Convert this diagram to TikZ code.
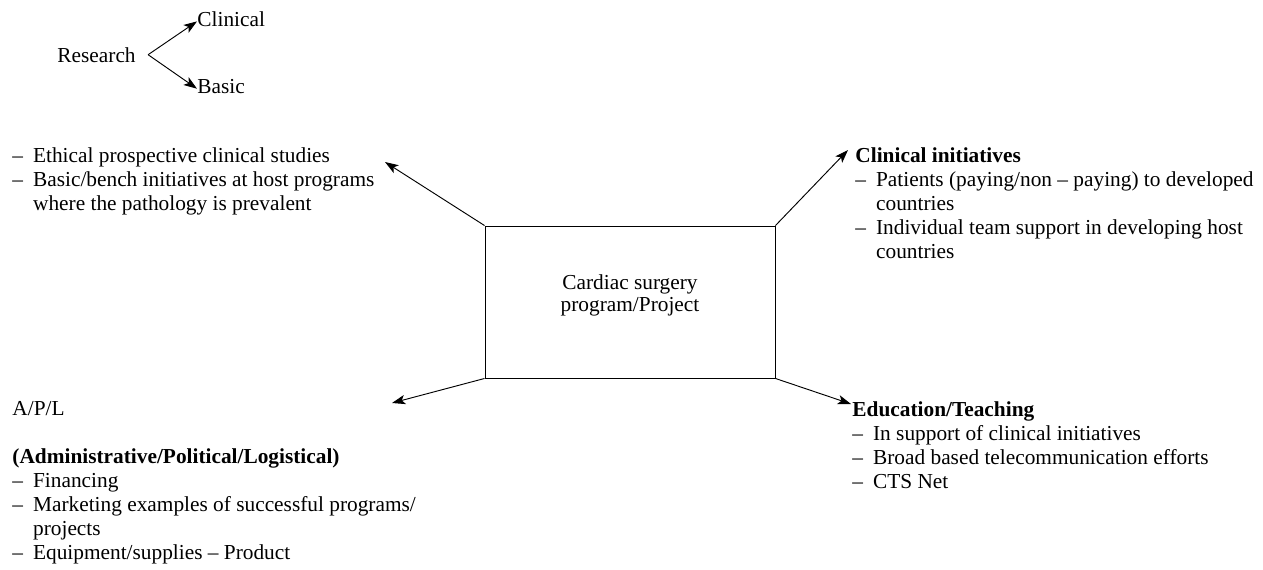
\documentclass[tikz,border=0pt]{standalone}
\usepackage{fontspec}
\setmainfont{Liberation Serif}
\usepackage{tikz}
\usetikzlibrary{arrows.meta}

\newcommand{\dsh}{\makebox[15.5pt][l]{--}}
\newcommand{\ind}{\hspace*{15.5pt}}

\begin{document}
\begin{tikzpicture}[font=\fontsize{16}{18}\selectfont,x=0.75pt,y=-0.75pt,
    >={Stealth[length=10pt,width=7pt,inset=2.5pt]},line width=0.7pt,
    txt/.style={anchor=base west,align=left,inner sep=0pt},
    block/.style={anchor=north west,align=left,inner sep=0pt}]
    \useasboundingbox (0,0) rectangle (1263,569);

    \node[txt] (research) at (57,62) {Research};
    \node[txt] (clinical) at (197,26) {Clinical};
    \node[txt] (basic) at (197,93) {Basic};
    \draw[->] ([xshift=9pt]research.east) -- ([yshift=-2pt]clinical.west);
    \draw[->] ([xshift=9pt]research.east) -- ([yshift=-2pt]basic.west);

    \node[draw,minimum width=217.5pt,minimum height=114pt,inner sep=0pt]
        (prog) at (630,302) {};
    \node[align=center,inner sep=0pt,font=\fontsize{16}{16.5}\selectfont]
        (progtext) at ([yshift=5pt]prog.center) {Cardiac surgery\\program/Project};

    \node[block] (studies) at (12,147)
        {\dsh Ethical prospective clinical studies\\
         \dsh Basic/bench initiatives at host programs\\
         \ind where the pathology is prevalent};
    \node[block] (clinit) at (855,147)
        {\textbf{Clinical initiatives}\\
         \dsh Patients (paying/non -- paying) to developed\\
         \ind countries\\
         \dsh Individual team support in developing host\\
         \ind countries};
    \node[block] (apl) at (12,401)
        {A/P/L\\[18pt]
         \textbf{(Administrative/Political/Logistical)}\\
         \dsh Financing\\
         \dsh Marketing examples of successful programs/\\
         \ind projects\\
         \dsh Equipment/supplies -- Product};
    \node[block] (educ) at (852,401)
        {\textbf{Education/Teaching}\\
         \dsh In support of clinical initiatives\\
         \dsh Broad based telecommunication efforts\\
         \dsh CTS Net};

    \coordinate (studiesend) at (385,162);
    \coordinate (clinitend) at (848,150);
    \coordinate (aplend) at (392,403);
    \coordinate (educend) at (851,404);

    \draw[->] (prog.north west) -- (studiesend);
    \draw[->] (prog.north east) -- (clinitend);
    \draw[->] (prog.south west) -- (aplend);
    \draw[->] (prog.south east) -- (educend);
\end{tikzpicture}
\end{document}
